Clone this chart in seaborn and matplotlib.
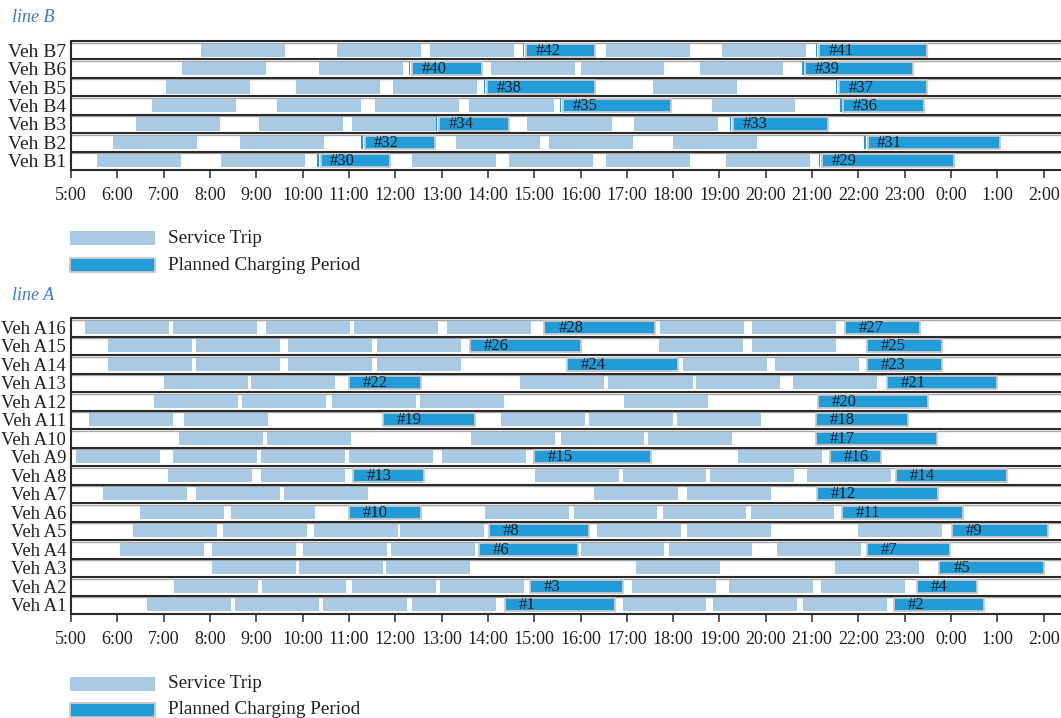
import matplotlib
matplotlib.use("Agg")
import matplotlib.pyplot as plt
import matplotlib.transforms as mtransforms
from matplotlib.patches import Rectangle
import seaborn as sns

# ---------------- data (hours; values > 24 are after midnight) ----------------
LINE_B_VEHICLES = ["Veh B7", "Veh B6", "Veh B5", "Veh B4", "Veh B3", "Veh B2", "Veh B1"]
LINE_B_TRIPS = {
    "Veh B7": [(7.81, 9.62), (10.75, 12.55), (12.75, 14.57), (16.56, 18.37), (19.06, 20.87)],
    "Veh B6": [(7.39, 9.21), (10.35, 12.17), (14.06, 15.89), (16.00, 17.81), (18.57, 20.37)],
    "Veh B5": [(7.05, 8.86), (9.85, 11.67), (11.95, 13.77), (17.57, 19.38)],
    "Veh B4": [(6.75, 8.56), (9.45, 11.25), (11.57, 13.38), (13.59, 15.42), (18.83, 20.63)],
    "Veh B3": [(6.41, 8.21), (9.06, 10.87), (11.07, 12.88), (14.85, 16.67), (17.16, 18.97)],
    "Veh B2": [(5.91, 7.72), (8.65, 10.46), (13.31, 15.13), (15.33, 17.14), (18.00, 19.82)],
    "Veh B1": [(5.57, 7.38), (8.24, 10.06), (12.36, 14.17), (14.46, 16.28), (16.56, 18.37), (19.15, 20.96)],
}
LINE_B_CHARGES = {
    "Veh B7": [(14.75, 16.32, 42), (21.08, 23.48, 41)],
    "Veh B6": [(12.29, 13.88, 40), (20.78, 23.17, 39)],
    "Veh B5": [(13.91, 16.32, 38), (21.51, 23.48, 37)],
    "Veh B4": [(15.55, 17.95, 35), (21.60, 23.41, 36)],
    "Veh B3": [(12.87, 14.46, 34), (19.22, 21.35, 33)],
    "Veh B2": [(11.27, 12.85, 32), (22.13, 25.05, 31)],
    "Veh B1": [(10.32, 11.89, 30), (21.14, 24.07, 29)],
}

LINE_A_VEHICLES = ["Veh A16", "Veh A15", "Veh A14", "Veh A13", "Veh A12", "Veh A11", "Veh A10", "Veh A9",
                   "Veh A8", "Veh A7", "Veh A6", "Veh A5", "Veh A4", "Veh A3", "Veh A2", "Veh A1"]
LINE_A_TRIPS = {
    "Veh A16": [(5.30, 7.12), (7.20, 9.01), (9.21, 11.02), (11.11, 12.93), (13.12, 14.93), (17.72, 19.53), (19.70, 21.52)],
    "Veh A15": [(5.80, 7.62), (7.70, 9.51), (9.68, 11.50), (11.61, 13.42), (17.70, 19.51), (19.70, 21.52)],
    "Veh A14": [(5.80, 7.62), (7.70, 9.51), (9.68, 11.50), (11.61, 13.42), (18.22, 20.03), (20.20, 22.02)],
    "Veh A13": [(7.01, 8.82), (8.89, 10.70), (14.70, 16.50), (16.60, 18.42), (18.50, 20.31), (20.59, 22.41)],
    "Veh A12": [(6.79, 8.61), (8.70, 10.51), (10.64, 12.45), (12.54, 14.35), (16.94, 18.76)],
    "Veh A11": [(5.39, 7.20), (7.44, 9.25), (14.29, 16.10), (16.19, 18.00), (18.09, 19.90)],
    "Veh A10": [(7.33, 9.15), (9.23, 11.04), (13.64, 15.45), (15.57, 17.37), (17.46, 19.27)],
    "Veh A9": [(5.11, 6.93), (7.20, 9.01), (9.10, 10.92), (11.00, 12.81), (13.01, 14.82), (19.41, 21.21)],
    "Veh A8": [(7.10, 8.91), (9.10, 10.92), (15.01, 16.82), (16.91, 18.71), (18.80, 20.61), (20.89, 22.70)],
    "Veh A7": [(5.69, 7.51), (7.70, 9.51), (9.60, 11.42), (16.30, 18.11), (18.30, 20.11)],
    "Veh A6": [(6.49, 8.30), (8.46, 10.27), (13.94, 15.76), (15.85, 17.66), (17.77, 19.58), (19.67, 21.48)],
    "Veh A5": [(6.34, 8.15), (8.29, 10.09), (10.25, 12.06), (12.10, 13.91), (16.36, 18.18), (18.30, 20.11), (22.00, 23.80)],
    "Veh A4": [(6.06, 7.87), (8.05, 9.85), (10.01, 11.82), (11.91, 13.72), (16.00, 17.81), (17.90, 19.70), (20.25, 22.06)],
    "Veh A3": [(8.05, 9.85), (9.92, 11.74), (11.80, 13.62), (17.20, 19.02), (21.50, 23.31)],
    "Veh A2": [(7.22, 9.04), (9.13, 10.94), (11.07, 12.88), (12.97, 14.78), (17.12, 18.93), (19.21, 21.02), (21.19, 23.01)],
    "Veh A1": [(6.64, 8.46), (8.54, 10.35), (10.44, 12.26), (12.36, 14.17), (16.91, 18.71), (18.86, 20.68), (20.81, 22.62)],
}
LINE_A_CHARGES = {
    "Veh A16": [(15.22, 17.60, 28), (21.70, 23.32, 27)],
    "Veh A15": [(13.61, 16.00, 26), (22.18, 23.80, 25)],
    "Veh A14": [(15.71, 18.10, 24), (22.18, 23.80, 23)],
    "Veh A13": [(11.00, 12.55, 22), (22.61, 25.00, 21)],
    "Veh A12": [(21.12, 23.51, 20)],
    "Veh A11": [(11.73, 13.73, 19), (21.08, 23.08, 18)],
    "Veh A10": [(21.08, 23.69, 17)],
    "Veh A9": [(14.99, 17.52, 15), (21.39, 22.49, 16)],
    "Veh A8": [(11.08, 12.63, 13), (22.81, 25.20, 14)],
    "Veh A7": [(21.10, 23.72, 12)],
    "Veh A6": [(11.00, 12.55, 10), (21.64, 24.25, 11)],
    "Veh A5": [(14.03, 16.19, 8), (24.01, 26.10, 9)],
    "Veh A4": [(13.80, 15.95, 6), (22.18, 23.98, 7)],
    "Veh A3": [(23.75, 26.00, 5)],
    "Veh A2": [(14.91, 16.92, 3), (23.26, 24.56, 4)],
    "Veh A1": [(14.36, 16.75, 1), (22.76, 24.70, 2)],
}

HOUR_TICKS = [5, 6, 7, 8, 9, 10, 11, 12, 13, 14, 15, 16, 17, 18, 19, 20, 21, 22, 23, 24, 25, 26]
HOUR_LABELS = ["5:00", "6:00", "7:00", "8:00", "9:00", "10:00", "11:00", "12:00", "13:00", "14:00",
               "15:00", "16:00", "17:00", "18:00", "19:00", "20:00", "21:00", "22:00", "23:00",
               "0:00", "1:00", "2:00"]
LEGEND_LABELS = ["Service Trip", "Planned Charging Period"]
PANEL_TITLES = ["line B", "line A"]

# ---------------- style ----------------
TRIP_COLOR = "#a9cae4"
CHARGE_COLOR = "#219cd9"
EDGE_COLOR = "#c9c9c9"
TEXT_COLOR = "#231f20"
TITLE_COLOR = "#3d7cc3"
LINE_COLOR = "#2a2a2a"

sns.set_theme(style="white")
plt.rcParams["font.family"] = ["Liberation Serif", "DejaVu Serif"]

W, H = 1061, 718
fig = plt.figure(figsize=(W / 100, H / 100), dpi=100)

X_LEFT = 71
X_MAX = 5 + (W - X_LEFT) / 46.32


def fig_rect(top_px, bottom_px):
    return [X_LEFT / W, 1 - bottom_px / H, 1 - X_LEFT / W, (bottom_px - top_px) / H]


def draw_panel(ax, vehicles, trips, charges, sliver, text_offset, label_size):
    n = len(vehicles)
    bh = 0.72
    for i, veh in enumerate(vehicles):
        y = n - 1 - i + 0.5
        for s, e in trips[veh]:
            ax.barh(y, e - s, left=s, height=bh, color=TRIP_COLOR, linewidth=0, zorder=2)
        for s, e, cid in charges[veh]:
            if sliver:
                ax.barh(y, 0.035, left=s, height=bh, color=CHARGE_COLOR, linewidth=0, zorder=2)
                bs = s + 0.075
            else:
                bs = s
            ax.barh(y, e - bs, left=bs, height=bh, color=CHARGE_COLOR, edgecolor=EDGE_COLOR,
                    linewidth=1.3, zorder=3)
            ax.text(bs + text_offset, y - 0.03, f"#{cid}", ha="left", va="center",
                    fontsize=12, color="#1e1e1e", zorder=4)
    # row separators (dark line with a grey line just under it)
    base = ax.get_yaxis_transform()
    shifted = base + mtransforms.ScaledTranslation(0, -1.6 / 100, fig.dpi_scale_trans)
    for k in range(1, n + 1):
        ax.plot([0, 1], [k, k], color="#a8a8a8", lw=1.0, zorder=1, transform=shifted, clip_on=False)
        ax.plot([0, 1], [k, k], color=LINE_COLOR, lw=1.5, zorder=5, transform=base, clip_on=False)
    ax.set_xlim(5, X_MAX)
    ax.set_ylim(0, n)
    ax.set_yticks([n - 1 - i + 0.5 for i in range(n)])
    ax.set_yticklabels(vehicles)
    ax.set_yticks([0.5, n - 0.5], minor=True)
    ax.set_yticklabels([], minor=True)
    ax.tick_params(axis="y", which="major", length=0, pad=3.5, labelsize=label_size, labelcolor=TEXT_COLOR)
    ax.tick_params(axis="y", which="minor", direction="in", length=6, width=1.1, color="#444444")
    ax.set_xticks(HOUR_TICKS)
    ax.set_xticklabels(HOUR_LABELS)
    ax.tick_params(axis="x", which="major", direction="out", length=6, width=1.1, color=LINE_COLOR,
                   pad=6.5, labelsize=13, labelcolor=TEXT_COLOR, bottom=True)
    sns.despine(ax=ax, top=True, right=True)
    for side in ("left", "bottom"):
        ax.spines[side].set_color(LINE_COLOR)
        ax.spines[side].set_linewidth(1.5)
    ax.set_xlabel("")
    ax.set_ylabel("")
    ax.grid(False)


def draw_legend(center1_px):
    for j, (label, col) in enumerate(zip(LEGEND_LABELS, [TRIP_COLOR, CHARGE_COLOR])):
        cy = center1_px + j * 26.5
        rect = Rectangle((70 / W, 1 - (cy + 7) / H), 85 / W, 14 / H, transform=fig.transFigure,
                         facecolor=col, edgecolor=EDGE_COLOR if j == 1 else "none",
                         linewidth=1.3 if j == 1 else 0)
        fig.patches.append(rect)
        fig.text(168 / W, 1 - cy / H, label, ha="left", va="center", fontsize=13.8, color=TEXT_COLOR)


# line B
axB = fig.add_axes(fig_rect(41, 170))
draw_panel(axB, LINE_B_VEHICLES, LINE_B_TRIPS, LINE_B_CHARGES, sliver=True, text_offset=0.2,
           label_size=14)
fig.text(12 / W, 1 - 17 / H, PANEL_TITLES[0], ha="left", va="center", fontsize=13,
         style="italic", color=TITLE_COLOR)
draw_legend(238.5)

# line A
axA = fig.add_axes(fig_rect(318, 614))
draw_panel(axA, LINE_A_VEHICLES, LINE_A_TRIPS, LINE_A_CHARGES, sliver=False, text_offset=0.3,
           label_size=13.4)
fig.text(12 / W, 1 - 295 / H, PANEL_TITLES[1], ha="left", va="center", fontsize=13,
         style="italic", color=TITLE_COLOR)
draw_legend(683.5)

fig.savefig("out.png", dpi=100)
